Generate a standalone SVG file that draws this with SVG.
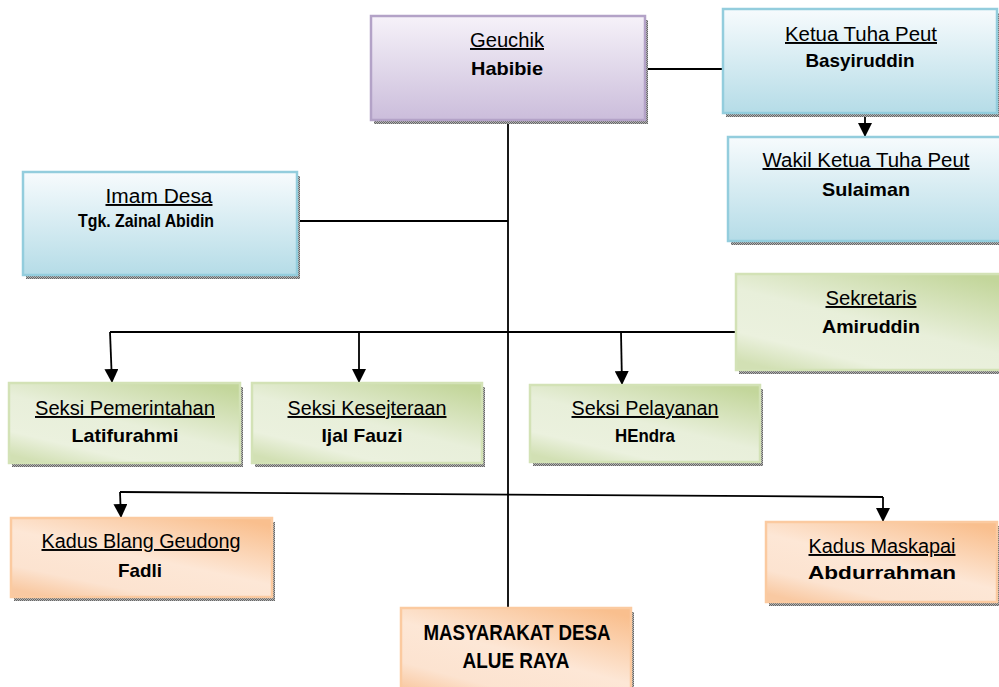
<svg xmlns="http://www.w3.org/2000/svg" width="999" height="687" viewBox="0 0 999 687">
<style>
.r{font-family:"Liberation Sans",Arial,sans-serif;font-size:19.5px;fill:#000;text-decoration:underline;}
.b{font-family:"Liberation Sans",Arial,sans-serif;font-size:19px;font-weight:bold;fill:#000;}
.bb{font-family:"Liberation Sans",Arial,sans-serif;font-size:22px;font-weight:bold;fill:#000;}
.sh{fill:url(#dots);}
.conn{fill:none;stroke:#000;stroke-width:1.8;}
.arr{marker-end:url(#ah);}
.pu{fill:url(#gp);stroke:#b3a2c7;stroke-width:2.5;}
.bl{fill:url(#gb);stroke:#93cddd;stroke-width:2.5;}
.gr{fill:url(#gg);stroke:#d3e2b6;stroke-width:2.5;}
.or{fill:url(#go);stroke:#fbcaa0;stroke-width:2.5;}
</style>
<defs>
<pattern id="dots" width="2" height="2" patternUnits="userSpaceOnUse">
<rect width="2" height="2" fill="#b4b4b4"/>
<rect width="1" height="1" fill="#666"/>
<rect x="1" y="1" width="1" height="1" fill="#666"/>
</pattern>
<linearGradient id="gp" x1="0" y1="0" x2="0" y2="1">
<stop offset="0" stop-color="#f6f2f9"/>
<stop offset="1" stop-color="#cbbddb"/>
</linearGradient>
<linearGradient id="gb" x1="0" y1="0" x2="0" y2="1">
<stop offset="0" stop-color="#f7fbfd"/>
<stop offset="1" stop-color="#b5dce7"/>
</linearGradient>
<linearGradient id="gg" x1="0.85" y1="0" x2="0.15" y2="1">
<stop offset="0" stop-color="#c3d69b"/>
<stop offset="0.5" stop-color="#e8efda"/>
<stop offset="0.8" stop-color="#ebf1de"/>
<stop offset="1" stop-color="#d2e0b4"/>
</linearGradient>
<linearGradient id="go" x1="0.85" y1="0" x2="0.15" y2="1">
<stop offset="0" stop-color="#f9bf8e"/>
<stop offset="0.5" stop-color="#fde7d6"/>
<stop offset="0.8" stop-color="#fce3d0"/>
<stop offset="1" stop-color="#f9c9a2"/>
</linearGradient>
<marker id="ah" markerUnits="userSpaceOnUse" markerWidth="14" markerHeight="14" viewBox="0 0 14 14" refX="14" refY="7" orient="auto">
<path d="M0,0 L14,7 L0,14 z" fill="#000"/>
</marker>
</defs>

<g id="connectors">
<path class="conn" d="M645,69 H723"/>
<path class="conn arr" d="M865,113 V137"/>
<path class="conn" d="M508,120 V608"/>
<path class="conn" d="M297,221 H508"/>
<path class="conn" d="M736,332 H110"/>
<path class="conn arr" d="M110,332 L112,383"/>
<path class="conn arr" d="M359,332 V383"/>
<path class="conn arr" d="M621,332 L622,385"/>
<path class="conn" d="M120,492 L883,497"/>
<path class="conn arr" d="M120,492 L121,518"/>
<path class="conn arr" d="M883,497 V522"/>
</g>

<g id="geuchik">
<rect class="sh" x="374" y="20" width="274" height="104"/>
<rect class="pu" x="371" y="16" width="274" height="104"/>
<text class="r" x="507" y="47" text-anchor="middle" textLength="74" lengthAdjust="spacingAndGlyphs">Geuchik</text>
<text class="b" x="507" y="75" text-anchor="middle" textLength="72" lengthAdjust="spacingAndGlyphs">Habibie</text>
</g>

<g id="ketua">
<rect class="sh" x="726" y="13" width="274" height="104"/>
<rect class="bl" x="723" y="9" width="274" height="104"/>
<text class="r" x="861" y="41" text-anchor="middle" textLength="152" lengthAdjust="spacingAndGlyphs">Ketua Tuha Peut</text>
<text class="b" x="860" y="67" text-anchor="middle" textLength="109" lengthAdjust="spacingAndGlyphs">Basyiruddin</text>
</g>

<g id="wakil">
<rect class="sh" x="731" y="141" width="275" height="104"/>
<rect class="bl" x="728" y="137" width="275" height="104"/>
<text class="r" x="866" y="167" text-anchor="middle" textLength="207" lengthAdjust="spacingAndGlyphs">Wakil Ketua Tuha Peut</text>
<text class="b" x="866" y="196" text-anchor="middle" textLength="88" lengthAdjust="spacingAndGlyphs">Sulaiman</text>
</g>

<g id="imam">
<rect class="sh" x="26" y="176" width="274" height="103"/>
<rect class="bl" x="23" y="172" width="274" height="103"/>
<text class="r" x="159" y="203" text-anchor="middle" textLength="107" lengthAdjust="spacingAndGlyphs">Imam Desa</text>
<text class="b" x="146" y="227" text-anchor="middle" textLength="136" lengthAdjust="spacingAndGlyphs">Tgk. Zainal Abidin</text>
</g>

<g id="sekretaris">
<rect class="sh" x="739" y="278" width="270" height="96"/>
<rect class="gr" x="736" y="274" width="270" height="96"/>
<text class="r" x="871" y="305" text-anchor="middle" textLength="91" lengthAdjust="spacingAndGlyphs">Sekretaris</text>
<text class="b" x="871" y="333" text-anchor="middle" textLength="98" lengthAdjust="spacingAndGlyphs">Amiruddin</text>
</g>

<g id="seksi-pemerintahan">
<rect class="sh" x="12" y="387" width="231" height="80"/>
<rect class="gr" x="9" y="383" width="231" height="80"/>
<text class="r" x="125" y="415" text-anchor="middle" textLength="180" lengthAdjust="spacingAndGlyphs">Seksi Pemerintahan</text>
<text class="b" x="125" y="442" text-anchor="middle" textLength="107" lengthAdjust="spacingAndGlyphs">Latifurahmi</text>
</g>

<g id="seksi-kesejteraan">
<rect class="sh" x="255" y="387" width="230" height="80"/>
<rect class="gr" x="252" y="383" width="230" height="80"/>
<text class="r" x="367" y="415" text-anchor="middle" textLength="159" lengthAdjust="spacingAndGlyphs">Seksi Kesejteraan</text>
<text class="b" x="362" y="442" text-anchor="middle" textLength="81" lengthAdjust="spacingAndGlyphs">Ijal Fauzi</text>
</g>

<g id="seksi-pelayanan">
<rect class="sh" x="533" y="389" width="230" height="77"/>
<rect class="gr" x="530" y="385" width="230" height="77"/>
<text class="r" x="645" y="415" text-anchor="middle" textLength="147" lengthAdjust="spacingAndGlyphs">Seksi Pelayanan</text>
<text class="b" x="645" y="442" text-anchor="middle" textLength="60" lengthAdjust="spacingAndGlyphs">HEndra</text>
</g>

<g id="kadus-blang-geudong">
<rect class="sh" x="14" y="522" width="261" height="79"/>
<rect class="or" x="11" y="518" width="261" height="79"/>
<text class="r" x="141" y="548" text-anchor="middle" textLength="199" lengthAdjust="spacingAndGlyphs">Kadus Blang Geudong</text>
<text class="b" x="140" y="577" text-anchor="middle" textLength="44" lengthAdjust="spacingAndGlyphs">Fadli</text>
</g>

<g id="kadus-maskapai">
<rect class="sh" x="769" y="526" width="231" height="80"/>
<rect class="or" x="766" y="522" width="231" height="80"/>
<text class="r" x="882" y="553" text-anchor="middle" textLength="147" lengthAdjust="spacingAndGlyphs">Kadus Maskapai</text>
<text class="b" x="882" y="579" text-anchor="middle" textLength="148" lengthAdjust="spacingAndGlyphs">Abdurrahman</text>
</g>

<g id="masyarakat">
<rect class="sh" x="404" y="612" width="230" height="90"/>
<rect class="or" x="401" y="608" width="230" height="90"/>
<text class="bb" x="517" y="640" text-anchor="middle" textLength="187" lengthAdjust="spacingAndGlyphs">MASYARAKAT DESA</text>
<text class="bb" x="516" y="668" text-anchor="middle" textLength="107" lengthAdjust="spacingAndGlyphs">ALUE RAYA</text>
</g>
</svg>
